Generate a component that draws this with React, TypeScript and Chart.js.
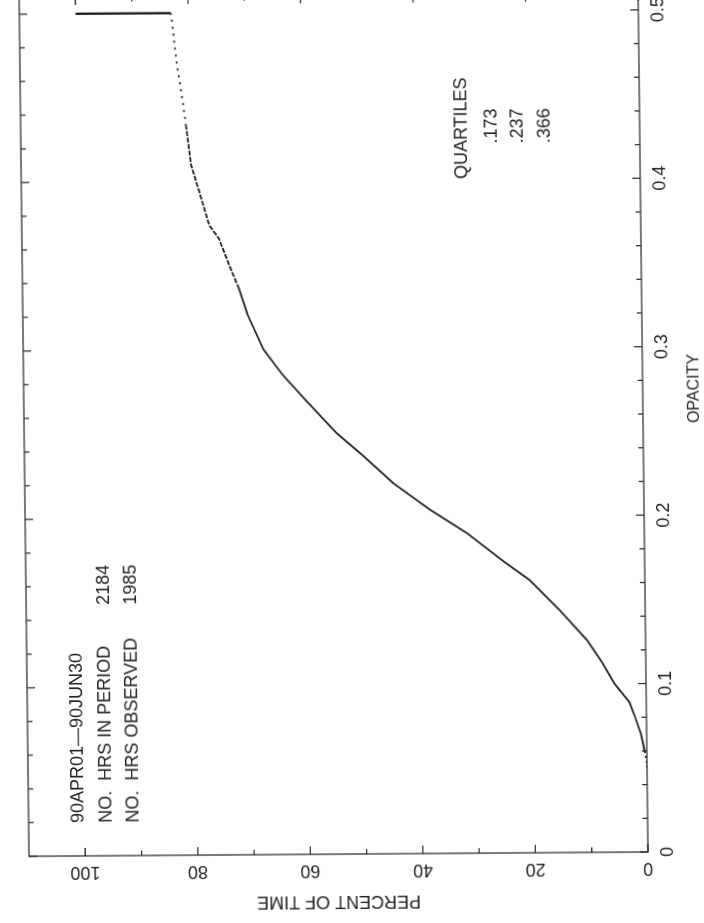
import { useEffect, useRef } from "react";
import { Chart, registerables } from "chart.js";

Chart.register(...registerables);

// Cumulative distribution: percent of time with opacity at or below the value
const OPACITY = [
  0.05, 0.055, 0.06, 0.07, 0.08, 0.089, 0.1, 0.113, 0.126, 0.144, 0.162, 0.173,
  0.19, 0.204, 0.22, 0.237, 0.25, 0.27, 0.285, 0.3, 0.321, 0.336, 0.35, 0.366,
  0.374, 0.394, 0.41, 0.433, 0.449, 0.469, 0.495, 0.5, 0.5,
];
const PERCENT = [
  0, 0.1, 0.4, 1.0, 2.0, 3.0, 5.6, 7.8, 10.4, 15.2, 20.5, 25, 31.5, 38, 44.5,
  50, 54.5, 60, 64, 67.3, 70.1, 71.5, 73.2, 75, 76.7, 78.4, 79.8, 80.6, 81.2,
  82.1, 82.9, 83.1, 100,
];

const OPACITY_TICKS = [0, 0.1, 0.2, 0.3, 0.4, 0.5];
const OPACITY_LABELS = ["0", "0.1", "0.2", "0.3", "0.4", "0.5"];
const OPACITY_MINOR = [
  0.02, 0.04, 0.06, 0.08, 0.12, 0.14, 0.16, 0.18, 0.22, 0.24, 0.26, 0.28, 0.32,
  0.34, 0.36, 0.38, 0.42, 0.44, 0.46, 0.48,
];
const PERCENT_TICKS = [0, 20, 40, 60, 80, 100];
const PERCENT_LABELS = ["0", "20", "40", "60", "80", "100"];
const PERCENT_MINOR = [10, 30, 50, 70, 90];

const PERIOD_LINES = ["90APR01—90JUN30", "NO.  HRS IN PERIOD", "NO.  HRS OBSERVED"];
const PERIOD_VALUES = ["", "2184", "1985"];
const QUARTILE_TITLE = "QUARTILES";
const QUARTILE_VALUES = [".173", ".237", ".366"];

const X_TITLE = "OPACITY";
const Y_TITLE = "PERCENT OF TIME";

const FONT = '"Liberation Sans", Arial, Helvetica, sans-serif';
const INK = "#222222";

const framePlugin = {
  id: "frameAndNotes",
  afterDatasetsDraw(chart: any) {
    const { ctx, chartArea: a, scales } = chart;
    const xs = scales.x;
    const ys = scales.y;
    ctx.save();
    ctx.strokeStyle = "#333333";
    ctx.lineWidth = 1.3;
    ctx.strokeRect(a.left, a.top, a.right - a.left, a.bottom - a.top);
    ctx.beginPath();
    const xt = (v: number, len: number) => {
      const p = xs.getPixelForValue(v);
      ctx.moveTo(p, a.bottom);
      ctx.lineTo(p, a.bottom - len);
      ctx.moveTo(p, a.top);
      ctx.lineTo(p, a.top + len);
    };
    const yt = (v: number, len: number) => {
      const p = ys.getPixelForValue(v);
      ctx.moveTo(a.left, p);
      ctx.lineTo(a.left + len, p);
      ctx.moveTo(a.right, p);
      ctx.lineTo(a.right - len, p);
    };
    OPACITY_TICKS.forEach((v) => xt(v, 8));
    OPACITY_MINOR.forEach((v) => xt(v, 5));
    PERCENT_TICKS.forEach((v) => yt(v, 8));
    PERCENT_MINOR.forEach((v) => yt(v, 5));
    ctx.stroke();

    ctx.fillStyle = INK;
    ctx.font = `18px ${FONT}`;
    ctx.textBaseline = "middle";
    ctx.textAlign = "left";
    const rowY = [79, 107, 134];
    PERIOD_LINES.forEach((t, i) => {
      ctx.fillText(t, 104, rowY[i]);
      if (PERIOD_VALUES[i]) ctx.fillText(PERIOD_VALUES[i], 322, rowY[i]);
    });

    ctx.textAlign = "center";
    ctx.fillText(QUARTILE_TITLE, 796, 470);
    const qY = [500, 526, 553];
    QUARTILE_VALUES.forEach((t, i) => ctx.fillText(t, 798, qY[i]));

    ctx.font = `16px ${FONT}`;
    ctx.fillText(X_TITLE, xs.getPixelForValue(0.275), 700);
    ctx.restore();
  },
};

export default function App() {
  const ref = useRef<HTMLCanvasElement>(null);

  useEffect(() => {
    if (!ref.current) return;
    const points = OPACITY.map((o, i) => ({ x: o, y: PERCENT[i] }));
    const chart = new Chart(ref.current, {
      type: "scatter",
      data: {
        datasets: [
          {
            data: points,
            showLine: true,
            borderColor: "#1e1e1e",
            borderWidth: 1.8,
            pointRadius: 0,
            tension: 0,
            fill: false,
            segment: {
              borderDash: (c: any) => {
                const x0 = c.p0.parsed.x;
                const x1 = c.p1.parsed.x;
                if (x1 <= 0.06) return [2, 3];
                if (x0 >= 0.5) return [];
                if (x0 >= 0.43) return [2, 5];
                if (x0 >= 0.336) return [5, 1.5];
                return [];
              },
              borderWidth: (c: any) => (c.p0.parsed.x >= 0.5 ? 2.4 : 1.8),
            },
          } as any,
        ],
      },
      options: {
        animation: false,
        responsive: false,
        events: [],
        plugins: { legend: { display: false }, tooltip: { enabled: false } },
        layout: { padding: { left: 0, right: 10, top: 29, bottom: 0 } },
        scales: {
          x: {
            type: "linear",
            position: "bottom",
            min: 0,
            max: 0.51,
            grid: { display: false, drawTicks: false },
            border: { display: false },
            afterBuildTicks: (s: any) => {
              s.ticks = OPACITY_TICKS.map((v) => ({ value: v }));
            },
            afterFit: (s: any) => {
              s.height = 56;
            },
            ticks: {
              autoSkip: false,
              minRotation: 0,
              maxRotation: 0,
              padding: 9,
              color: INK,
              font: { family: FONT, size: 18 },
              callback: (_v: any, i: number) => OPACITY_LABELS[i],
            },
          },
          y: {
            type: "linear",
            position: "left",
            min: 0,
            max: 110,
            grid: { display: false, drawTicks: false },
            border: { display: false },
            afterBuildTicks: (s: any) => {
              s.ticks = PERCENT_TICKS.map((v) => ({ value: v }));
            },
            afterFit: (s: any) => {
              s.width = 71;
            },
            ticks: {
              autoSkip: false,
              minRotation: 90,
              maxRotation: 90,
              crossAlign: "center",
              padding: 1,
              color: INK,
              font: { family: FONT, size: 18 },
              callback: (_v: any, i: number) => PERCENT_LABELS[i],
            },
            title: {
              display: true,
              text: Y_TITLE,
              color: INK,
              font: { family: FONT, size: 18 },
              padding: { top: 13, bottom: 0 },
            },
          },
        },
      } as any,
      plugins: [framePlugin],
    });
    return () => chart.destroy();
  }, []);

  return (
    <div
      style={{
        position: "fixed",
        left: 0,
        top: 0,
        width: 704,
        height: 923,
        overflow: "hidden",
        background: "#ffffff",
      }}
    >
      <div
        style={{
          position: "absolute",
          left: 0,
          top: 0,
          width: 940,
          height: 704,
          transformOrigin: "0 0",
          transform: "matrix(-0.0115, -1, 1, -0.007, 0.82, 927.5)",
        }}
      >
        <canvas ref={ref} width={940} height={704} style={{ display: "block" }} />
      </div>
    </div>
  );
}
